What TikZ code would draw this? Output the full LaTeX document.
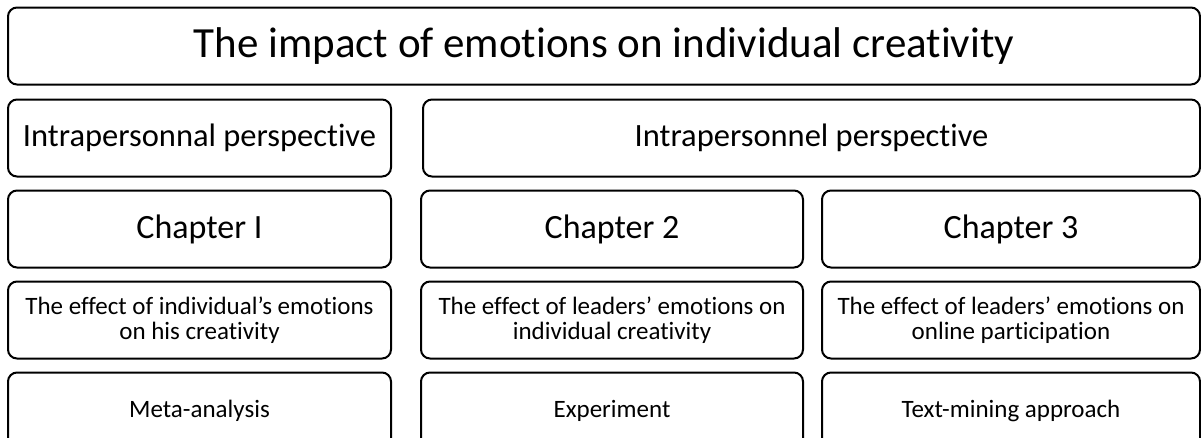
\documentclass[tikz,border=0pt]{standalone}
\usepackage{fontspec}
\setmainfont[Ligatures={NoCommon,NoContextual}]{Carlito}
\usetikzlibrary{positioning}

\begin{document}
\begin{tikzpicture}[
    x=1pt, y=1pt,
    node distance=12pt and 17pt,
    block/.style={rectangle, draw, line width=2pt, rounded corners=9pt, inner sep=0pt, align=center, minimum height=77pt},
    headbox/.style={block, minimum width=1192pt, font=\fontsize{43}{50}\selectfont},
    perspbox/.style={block, font=\fontsize{32.5}{38}\selectfont},
    chapbox/.style={block, font=\fontsize{34}{40}\selectfont},
    topicbox/.style={block, font=\fontsize{25}{25.5}\selectfont},
    methodbox/.style={block, font=\fontsize{25}{26}\selectfont}
]
\useasboundingbox (0,0) rectangle (1201,-437);

% Title
\node[headbox] (title) at (604,-46) {The impact of emotions on individual creativity};

% Perspectives
\node[perspbox, minimum width=383pt, below=13pt of title.south west, anchor=north west] (intra) {Intrapersonnal perspective};
\node[perspbox, minimum width=777pt, below=13pt of title.south east, anchor=north east] (inter) {Intrapersonnel perspective};

% Chapters
\node[chapbox, minimum width=383pt, below=of intra] (ch1) {Chapter I};
\node[chapbox, minimum width=378pt, below=of inter.south east, anchor=north east] (ch3) {Chapter 3};
\node[chapbox, minimum width=382pt, left=of ch3] (ch2) {Chapter 2};

% Topics
\node[topicbox, minimum width=383pt, below=of ch1] (topic1) {The effect of individual’s emotions\\on his creativity};
\node[topicbox, minimum width=382pt, below=of ch2] (topic2) {The effect of leaders’ emotions on\\individual creativity};
\node[topicbox, minimum width=378pt, below=of ch3] (topic3) {The effect of leaders’ emotions on\\online participation};

% Methods
\node[methodbox, minimum width=383pt, below=of topic1] (meth1) {Meta-analysis};
\node[methodbox, minimum width=382pt, below=of topic2] (meth2) {Experiment};
\node[methodbox, minimum width=378pt, below=of topic3] (meth3) {Text-mining approach};

\end{tikzpicture}
\end{document}
